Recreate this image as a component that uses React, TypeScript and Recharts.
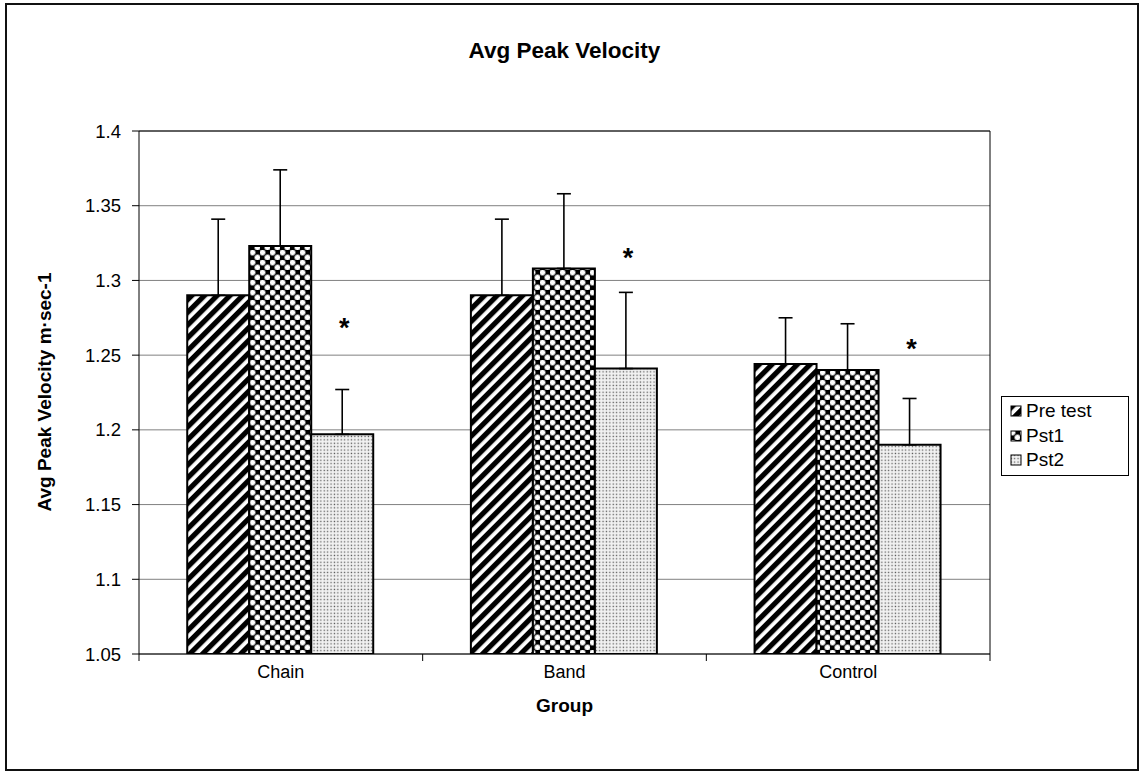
import React from "react";
import { BarChart, Bar, XAxis, YAxis, CartesianGrid, ErrorBar, LabelList, ReferenceLine } from "recharts";

const groups = ["Chain", "Band", "Control"];
const preTest = [1.29, 1.29, 1.244];
const pst1 = [1.323, 1.308, 1.24];
const pst2 = [1.197, 1.241, 1.19];
const preErr = [0.051, 0.051, 0.031];
const pst1Err = [0.051, 0.05, 0.031];
const pst2Err = [0.03, 0.051, 0.031];
const starAt = [1.272, 1.319, 1.258];
const yTicks = [1.05, 1.1, 1.15, 1.2, 1.25, 1.3, 1.35, 1.4];
const seriesNames = ["Pre test", "Pst1", "Pst2"];

const data = groups.map((g, i) => ({
  group: g,
  pre: preTest[i],
  pst1: pst1[i],
  pst2: pst2[i],
  preE: [0, preErr[i]],
  pst1E: [0, pst1Err[i]],
  pst2E: [0, pst2Err[i]],
}));

const W = 1139;
const H = 772;
const PL = 139, PR = 990, PT = 131, PB = 654;
const catW = (PR - PL) / groups.length;
const FONT = "'Liberation Sans', Arial, sans-serif";

const XTick = (props: any) => {
  const { x, y, payload, index } = props;
  return (
    <g>
      <line x1={x - catW / 2} y1={y} x2={x - catW / 2} y2={y + 7} stroke="#000" strokeWidth={1} />
      {index === groups.length - 1 && (
        <line x1={x + catW / 2} y1={y} x2={x + catW / 2} y2={y + 7} stroke="#000" strokeWidth={1} />
      )}
      <text x={x} y={y + 24} textAnchor="middle" fontSize={18} fontFamily={FONT} fill="#000">
        {payload.value}
      </text>
    </g>
  );
};

const Star = (props: any) => {
  const { x, y, width, height, value, index } = props;
  const per = height / (value - 1.05);
  const cy = y - (starAt[index] - value) * per;
  return (
    <text x={x + width / 2 + 2} y={cy + 15} textAnchor="middle" fontSize={27} fontWeight="bold" fontFamily={FONT} fill="#000">
      *
    </text>
  );
};

const fills = ["url(#pStripe)", "url(#pCircle)", "url(#pDots)"];

export default function App() {
  return (
    <div style={{ position: "absolute", left: 0, top: 0, width: W, height: H, background: "#fff", fontFamily: FONT }}>
      <div style={{ position: "absolute", left: 5, top: 3, width: 1130, height: 764, border: "2px solid #111" }} />
      <div style={{ position: "absolute", left: PL, width: PR - PL, top: 38, textAlign: "center", fontSize: 22.5, fontWeight: "bold" }}>
        Avg Peak Velocity
      </div>
      <div style={{ position: "absolute", left: PL, width: PR - PL, top: 695, textAlign: "center", fontSize: 19, fontWeight: "bold" }}>
        Group
      </div>
      <div
        style={{
          position: "absolute",
          left: 45,
          top: 392,
          transform: "translate(-50%, -50%) rotate(-90deg)",
          whiteSpace: "nowrap",
          fontSize: 19,
          fontWeight: "bold",
        }}
      >
        Avg Peak Velocity m·sec-1
      </div>
      <div style={{ position: "absolute", left: 0, top: 0 }}>
        <BarChart
          width={W}
          height={H}
          data={data}
          margin={{ top: PT, right: W - PR, bottom: H - PB - 30, left: PL - 60 }}
          barCategoryGap="17%"
          barGap={0}
        >
          <defs>
            <pattern id="pStripe" patternUnits="userSpaceOnUse" width="9" height="9" patternTransform="rotate(45)">
              <rect width="9" height="9" fill="#fff" />
              <rect width="5.2" height="9" fill="#000" />
            </pattern>
            <pattern id="pCircle" patternUnits="userSpaceOnUse" width="10" height="10">
              <rect width="10" height="10" fill="#000" />
              <circle cx="2.5" cy="2.5" r="3" fill="#fff" stroke="#666" strokeWidth="0.8" />
              <circle cx="7.5" cy="7.5" r="3" fill="#fff" stroke="#666" strokeWidth="0.8" />
            </pattern>
            <pattern id="pDots" patternUnits="userSpaceOnUse" width="3.4" height="3.4">
              <rect width="3.4" height="3.4" fill="#f2f2f2" />
              <rect x="0.6" y="0.6" width="1.3" height="1.3" fill="#555" />
            </pattern>
          </defs>
          <CartesianGrid vertical={false} stroke="#808080" strokeWidth={1} />
          <XAxis
            dataKey="group"
            height={30}
            tickLine={false}
            tickSize={0}
            tickMargin={0}
            axisLine={{ stroke: "#000", strokeWidth: 1 }}
            tick={<XTick />}
            interval={0}
          />
          <YAxis
            width={60}
            domain={[1.05, 1.4]}
            ticks={yTicks}
            interval={0}
            tickSize={7}
            tickMargin={11}
            axisLine={{ stroke: "#000", strokeWidth: 1 }}
            tickLine={{ stroke: "#000", strokeWidth: 1 }}
            tick={{ fontSize: 18.5, fill: "#000", fontFamily: FONT }}
            allowDataOverflow
          />
          <ReferenceLine y={1.4} stroke="#000" strokeWidth={1} />
          <ReferenceLine x="Control" position="end" stroke="#000" strokeWidth={1} />
          <Bar dataKey="pre" name={seriesNames[0]} fill={fills[0]} stroke="#000" strokeWidth={2} isAnimationActive={false}>
            <ErrorBar dataKey="preE" direction="y" width={7} stroke="#000" strokeWidth={1.6} />
          </Bar>
          <Bar dataKey="pst1" name={seriesNames[1]} fill={fills[1]} stroke="#000" strokeWidth={2} isAnimationActive={false}>
            <ErrorBar dataKey="pst1E" direction="y" width={7} stroke="#000" strokeWidth={1.6} />
          </Bar>
          <Bar dataKey="pst2" name={seriesNames[2]} fill={fills[2]} stroke="#000" strokeWidth={2} isAnimationActive={false}>
            <ErrorBar dataKey="pst2E" direction="y" width={7} stroke="#000" strokeWidth={1.6} />
            <LabelList dataKey="pst2" content={<Star />} />
          </Bar>
        </BarChart>
      </div>
      <div
        style={{
          position: "absolute",
          left: 1001,
          top: 396,
          width: 128,
          border: "1px solid #000",
          background: "#fff",
          padding: "2px 0 2px 8px",
          fontSize: 19,
          boxSizing: "border-box",
        }}
      >
        {seriesNames.map((n, i) => (
          <div key={n} style={{ display: "flex", alignItems: "center", height: 24.5 }}>
            <svg width={12} height={12} style={{ marginRight: 4 }}>
              <rect x={1} y={1} width={10} height={10} fill={fills[i]} stroke="#000" strokeWidth={1} />
            </svg>
            <span>{n}</span>
          </div>
        ))}
      </div>
    </div>
  );
}
